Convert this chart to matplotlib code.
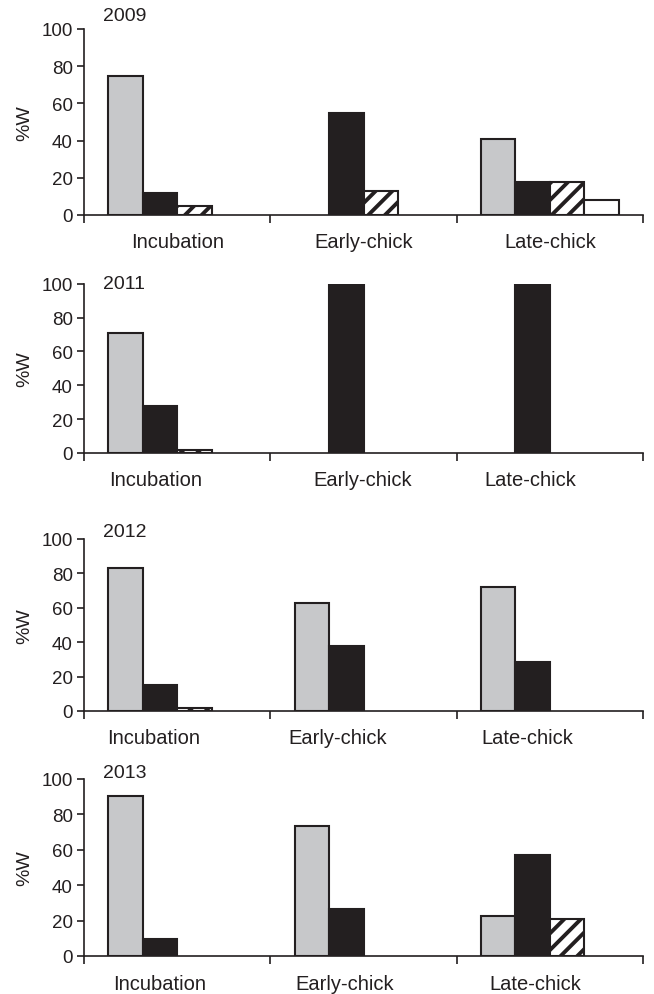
import matplotlib
matplotlib.use("Agg")
import matplotlib.pyplot as plt
from matplotlib.transforms import ScaledTranslation
import numpy as np

plt.rcParams['font.family'] = ['Liberation Sans', 'DejaVu Sans']
plt.rcParams['hatch.linewidth'] = 2.8
plt.rcParams['hatch.color'] = '#231f20'

categories = ["Incubation", "Early-chick", "Late-chick"]
years = ["2009", "2011", "2012", "2013"]

# series per year: grey, black, hatched, white
grey = [[75, 0, 41], [71, 0, 0], [83, 62.5, 72], [90.5, 73.5, 22.5]]
black = [[12, 55, 18], [27.5, 100, 100], [15, 38, 28.5], [9.5, 26.5, 57]]
hatched = [[5, 13, 18], [1.5, 0, 0], [1.5, 0, 0], [0, 0, 21]]
white = [[0, 0, 8], [0, 0, 0], [0, 0, 0], [0, 0, 0]]

series_style = [
    dict(color='#c7c8ca', hatch=None),
    dict(color='#231f20', hatch=None),
    dict(color='white', hatch='//'),
    dict(color='white', hatch=None),
]

W, H = 654, 995
DPI = 100
fig = plt.figure(figsize=(W / DPI, H / DPI), dpi=DPI)

# layout: (top_px, bottom_px) of each panel's plotting area
panels_px = [(30, 216), (284.7, 454), (539.7, 712), (780, 957)]
year_y = [1.07, 1.0, 1.04, 1.034]
# horizontal offsets (px) of the category labels in each panel
label_dx = [(0, 0, 0), (-22, -1, -20), (-24, -26, -23), (-18, -19, -15)]
label_dy = [27, 27, 27, 28]
left_px, right_px = 84, 643

bw = 0.185
for i, yr in enumerate(years):
    top, bot = panels_px[i]
    ax = fig.add_axes([left_px / W, 1 - bot / H, (right_px - left_px) / W, (bot - top) / H])
    data = [grey[i], black[i], hatched[i], white[i]]
    x = np.arange(len(categories))
    for s, vals in enumerate(data):
        offs = (s - 1.5) * bw
        for j, v in enumerate(vals):
            if v > 0:
                ax.bar(x[j] + offs, v, width=bw, color=series_style[s]['color'],
                       hatch=series_style[s]['hatch'], edgecolor='#231f20',
                       linewidth=1.5, zorder=2)
    ax.set_xlim(-0.5, 2.5)
    ax.set_ylim(0, 100)
    ax.set_yticks([0, 20, 40, 60, 80, 100])
    ax.set_xticks([-0.5, 0.5, 1.5, 2.5])
    ax.set_xticklabels([])
    ax.tick_params(axis='x', length=6, width=1.2, direction='out', color='#231f20')
    ax.tick_params(axis='y', length=5, width=1.2, pad=3, labelsize=13.5,
                   labelcolor='#231f20', color='#231f20')
    for j, cat in enumerate(categories):
        tr = ax.get_xaxis_transform() + ScaledTranslation(
            label_dx[i][j] / DPI, -label_dy[i] / DPI, fig.dpi_scale_trans)
        ax.text(x[j], 0, cat, transform=tr, ha='center', va='center',
                fontsize=14.5, color='#231f20')
    for sp in ['top', 'right']:
        ax.spines[sp].set_visible(False)
    for sp in ['left', 'bottom']:
        ax.spines[sp].set_linewidth(1.2)
        ax.spines[sp].set_color('#231f20')
    ax.spines['bottom'].set_zorder(3)
    ax.set_ylabel('%W', fontsize=14, color='#231f20', labelpad=6)
    ax.text(0.034, year_y[i], yr, transform=ax.transAxes, fontsize=14,
            va='center', ha='left', color='#231f20')

fig.savefig('out.png', dpi=DPI)
